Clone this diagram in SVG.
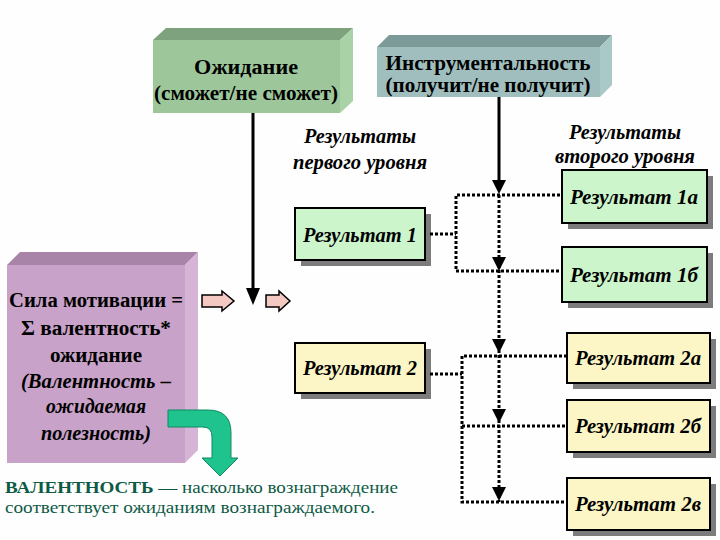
<svg xmlns="http://www.w3.org/2000/svg" width="720" height="540" viewBox="0 0 720 540">
<defs>
<style>
text{font-family:'Liberation Serif','DejaVu Serif',serif}
.hdr{font-weight:bold;font-size:20px;fill:#000;text-anchor:middle}
.it{font-weight:bold;font-style:italic;font-size:20px;fill:#000;text-anchor:middle}
.rt{font-weight:bold;font-style:italic;font-size:22px;fill:#000;text-anchor:middle}
.res{stroke:#000;stroke-width:2}
.g1{fill:#ccf5cc}
.y1{fill:#fcf6c6}
.shadow{fill:#7c7c7c}
.dot{fill:none;stroke:#000;stroke-width:3;stroke-dasharray:3 2}
.note{font-size:17px;fill:#0c5a44}
</style>
</defs>
<rect width="720" height="540" fill="#fefefe"/>

<g id="expectation">
<polygon points="153,40 166,28 353,28 340,40" fill="#7fa27e"/>
<polygon points="340,40 353,28 353,101 340,113" fill="#a9d2a7"/>
<rect x="153" y="40" width="187" height="73" fill="#9dc79b"/>
<text class="hdr" x="246" y="74" font-size="21" textLength="104" lengthAdjust="spacingAndGlyphs">Ожидание</text>
<text class="hdr" x="246" y="100" font-size="21" textLength="184" lengthAdjust="spacingAndGlyphs">(сможет/не сможет)</text>
</g>

<g id="instrumentality">
<polygon points="377,47 389,35 612,35 600,47" fill="#7b9a98"/>
<polygon points="600,47 612,35 612,85 600,97" fill="#a9c9c6"/>
<rect x="377" y="47" width="223" height="50" fill="#9fbebd"/>
<text class="hdr" x="488" y="70" font-size="19" textLength="205" lengthAdjust="spacingAndGlyphs">Инструментальность</text>
<text class="hdr" x="488" y="92" font-size="19" textLength="205" lengthAdjust="spacingAndGlyphs">(получит/не получит)</text>
</g>

<g id="motivation">
<polygon points="7,265 20,252 198,252 185,265" fill="#a884a8"/>
<polygon points="185,265 198,252 198,450 185,463" fill="#d6b4d6"/>
<rect x="7" y="265" width="178" height="198" fill="#c8a2c8"/>
<text class="hdr" x="96" y="307" textLength="174" lengthAdjust="spacingAndGlyphs">Сила мотивации =</text>
<text class="hdr" x="96" y="335" textLength="150" lengthAdjust="spacingAndGlyphs">Σ валентность*</text>
<text class="hdr" x="96" y="362" textLength="92" lengthAdjust="spacingAndGlyphs">ожидание</text>
<text class="hdr" x="96" y="388" font-style="italic" textLength="150" lengthAdjust="spacingAndGlyphs">(Валентность –</text>
<text class="hdr" x="96" y="413" font-style="italic" textLength="100" lengthAdjust="spacingAndGlyphs">ожидаемая</text>
<text class="hdr" x="96" y="440" font-style="italic" textLength="110" lengthAdjust="spacingAndGlyphs">полезность)</text>
</g>

<g id="label-level1">
<text class="it" x="360" y="143" textLength="112" lengthAdjust="spacingAndGlyphs">Результаты</text>
<text class="it" x="360" y="169" textLength="134" lengthAdjust="spacingAndGlyphs">первого уровня</text>
</g>
<g id="label-level2">
<text class="it" x="625" y="139" textLength="112" lengthAdjust="spacingAndGlyphs">Результаты</text>
<text class="it" x="625" y="163" textLength="140" lengthAdjust="spacingAndGlyphs">второго уровня</text>
</g>

<g id="result1">
<rect class="shadow" x="301" y="214" width="130" height="52"/>
<rect class="res g1" x="295" y="208" width="130" height="52"/>
<text class="rt" x="360" y="242" textLength="114" lengthAdjust="spacingAndGlyphs">Результат 1</text>
</g>
<g id="result1a">
<rect class="shadow" x="568" y="176" width="145" height="53"/>
<rect class="res g1" x="562" y="170" width="145" height="53"/>
<text class="rt" x="634" y="204" textLength="128" lengthAdjust="spacingAndGlyphs">Результат 1а</text>
</g>
<g id="result1b">
<rect class="shadow" x="568" y="253" width="145" height="55"/>
<rect class="res g1" x="562" y="247" width="145" height="55"/>
<text class="rt" x="634" y="282" textLength="128" lengthAdjust="spacingAndGlyphs">Результат 1б</text>
</g>
<g id="result2">
<rect class="shadow" x="301" y="349" width="130" height="50"/>
<rect class="res y1" x="295" y="343" width="130" height="50"/>
<text class="rt" x="360" y="375" textLength="114" lengthAdjust="spacingAndGlyphs">Результат 2</text>
</g>
<g id="result2a">
<rect class="shadow" x="573" y="339" width="143" height="50"/>
<rect class="res y1" x="567" y="333" width="143" height="50"/>
<text class="rt" x="638" y="365" textLength="126" lengthAdjust="spacingAndGlyphs">Результат 2а</text>
</g>
<g id="result2b">
<rect class="shadow" x="573" y="406" width="143" height="52"/>
<rect class="res y1" x="567" y="400" width="143" height="52"/>
<text class="rt" x="638" y="433" textLength="126" lengthAdjust="spacingAndGlyphs">Результат 2б</text>
</g>
<g id="result2v">
<rect class="shadow" x="573" y="484" width="143" height="52"/>
<rect class="res y1" x="567" y="478" width="143" height="52"/>
<text class="rt" x="638" y="511" textLength="126" lengthAdjust="spacingAndGlyphs">Результат 2в</text>
</g>

<g id="connectors">
<line x1="253" y1="113" x2="253" y2="290" stroke="#000" stroke-width="3"/>
<polygon points="246,288 260,288 253,305" fill="#000"/>
<line x1="499" y1="97" x2="499" y2="182" stroke="#000" stroke-width="3"/>
<polygon points="492,180 506,180 499,194" fill="#000"/>
<path class="dot" d="M560,195 H456 V271 H560 M430,234 H456"/>
<path class="dot" d="M567,356 H462 V502 H567 M430,374 H462 M462,426 H567"/>
<line class="dot" x1="499" y1="195" x2="499" y2="502"/>
<polygon points="492,257 506,257 499,271" fill="#000"/>
<polygon points="492,339 506,339 499,353" fill="#000"/>
<polygon points="492,409 506,409 499,423" fill="#000"/>
<polygon points="492,487 506,487 499,501" fill="#000"/>
<path d="M202,295 H222 V291 L234,301 L222,311 V307 H202 Z" fill="#f4c9c2" stroke="#000" stroke-width="1.5"/>
<path d="M266,295 H279 V291 L290,301 L279,311 V307 H266 Z" fill="#f4c9c2" stroke="#000" stroke-width="1.5"/>
<path d="M168,410 H208 Q231,410 231,433 V458 H238 L220,476 L202,458 H212 V437 Q212,427 203,427 H168 Z" fill="#1fc38d" stroke="#0f8a60" stroke-width="1"/>
</g>

<g id="note">
<text class="note" x="5" y="493" textLength="393" lengthAdjust="spacingAndGlyphs"><tspan font-weight="bold">ВАЛЕНТНОСТЬ</tspan> — насколько вознаграждение</text>
<text class="note" x="5" y="513" textLength="370" lengthAdjust="spacingAndGlyphs">соответствует ожиданиям вознаграждаемого.</text>
</g>
</svg>
